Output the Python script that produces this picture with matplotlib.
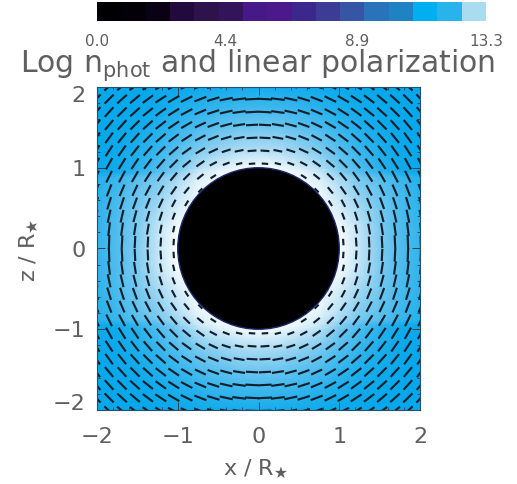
import numpy as np
import matplotlib
matplotlib.use("Agg")
import matplotlib.pyplot as plt
from matplotlib.colors import ListedColormap, LinearSegmentedColormap
from matplotlib.patches import Circle
from matplotlib.ticker import MultipleLocator

# --- colour bar
bar_colors = ["#000003", "#030008", "#0a0214", "#230a3c", "#2d124b", "#32145a",
              "#461987", "#4b198c", "#3c288c", "#3c3c96", "#3755a5", "#2873b9",
              "#1e82c3", "#00aff0", "#28b4eb", "#aadcf0"]
bar_ticks = [0.0, 4.4, 8.9, 13.3]
bar_ticklabels = ["0.0", "4.4", "8.9", "13.3"]

# --- photon-density brightness, quadrant x>=0, z>=0 (0 = saturated blue, 1 = white)
x_knots = [0, .25, .5, .75, 1, 1.25, 1.5, 1.75, 2]
z_knots = [0, .25, .5, .75, .88, .95, 1, 1.25, 1.5, 1.75, 2]
brightness = [
    [1.00, 1.00, 1.00, 1.00, 1.00, .74, .48, .30, .18],
    [1.00, 1.00, 1.00, 1.00, .95, .72, .47, .29, .17],
    [1.00, 1.00, 1.00, .95, .82, .62, .43, .27, .16],
    [1.00, 1.00, .98, .90, .70, .50, .36, .23, .14],
    [1.00, .98, .92, .82, .62, .44, .32, .20, .13],
    [1.00, .95, .90, .76, .50, .30, .16, .06, .03],
    [.98, .92, .82, .68, .44, .27, .14, .05, .02],
    [.64, .62, .54, .44, .30, .18, .09, .03, .01],
    [.42, .40, .34, .27, .18, .11, .05, .02, .00],
    [.22, .21, .18, .14, .09, .05, .02, .01, .00],
    [.06, .06, .05, .04, .02, .01, .00, .00, .00],
]

# --- polarization vectors, quadrant x>0, z>0, rows = z, cols = x
vec_pos = [.08, .24, .40, .56, .72, .89, 1.05, 1.21, 1.37, 1.53, 1.69, 1.85, 2.01]
# tilt below horizontal, degrees
vec_tilt = [
    [45, 72, 79, 82, 84, 85, 86, 86, 87, 87, 87, 88, 88],
    [18, 45, 59, 67, 72, 75, 77, 79, 80, 81, 82, 83, 83],
    [11, 31, 45, 55, 61, 66, 69, 72, 74, 75, 77, 78, 79],
    [8, 23, 36, 45, 52, 58, 62, 65, 68, 70, 72, 73, 74],
    [6, 18, 29, 38, 45, 51, 55, 59, 62, 65, 67, 69, 70],
    [5, 15, 24, 33, 39, 45, 50, 54, 57, 60, 62, 64, 66],
    [4, 13, 21, 28, 35, 40, 45, 49, 53, 56, 58, 61, 63],
    [4, 11, 18, 25, 31, 36, 41, 45, 49, 52, 55, 57, 59],
    [3, 10, 16, 22, 28, 33, 37, 41, 45, 48, 51, 54, 56],
    [3, 9, 15, 20, 25, 30, 34, 38, 42, 45, 48, 50, 53],
    [3, 8, 13, 18, 23, 28, 32, 36, 39, 42, 45, 48, 50],
    [3, 7, 12, 17, 21, 26, 30, 33, 37, 40, 42, 45, 47],
    [2, 7, 11, 16, 20, 24, 28, 31, 34, 37, 40, 43, 45],
]
vec_len = [
    [.04, .04, .04, .04, .04, .04, .08, .11, .135, .15, .165, .175, .16],
    [.04, .04, .04, .04, .04, .05, .08, .11, .135, .15, .165, .17, .16],
    [.04, .04, .04, .04, .04, .06, .09, .115, .135, .15, .16, .165, .16],
    [.04, .04, .04, .04, .05, .08, .10, .125, .14, .15, .155, .16, .16],
    [.04, .04, .04, .05, .07, .10, .12, .135, .145, .15, .155, .16, .16],
    [.04, .05, .06, .08, .10, .115, .13, .14, .15, .155, .16, .16, .16],
    [.08, .08, .09, .10, .12, .13, .14, .15, .155, .16, .16, .16, .16],
    [.11, .11, .115, .125, .135, .14, .15, .155, .16, .16, .16, .16, .16],
    [.135, .135, .135, .14, .145, .15, .155, .16, .16, .16, .16, .16, .16],
    [.15, .15, .15, .15, .15, .155, .16, .16, .16, .16, .16, .16, .16],
    [.165, .165, .16, .155, .155, .16, .16, .16, .16, .16, .16, .16, .16],
    [.175, .17, .165, .16, .16, .16, .16, .16, .16, .16, .16, .16, .16],
    [.16, .16, .16, .16, .16, .16, .16, .16, .16, .16, .16, .16, .16],
]

title = r"Log n$_{\mathrm{phot}}$ and linear polarization"
xlabel = r"x / R$_{\bigstar}$"
ylabel = r"z / R$_{\bigstar}$"
axis_ticks = [-2, -1, 0, 1, 2]
ytick_labels = ["\u22122", "\u22121", "0", "1", "2"]
ytick_offset_pt = [4.3, -1.5, -1.5, -1.5, -6.5]

W, H = 517, 484
GRAY = "#5f5f5f"
plt.rcParams["font.family"] = "DejaVu Sans"
plt.rcParams["mathtext.default"] = "regular"

fig = plt.figure(figsize=(W / 100, H / 100), dpi=100)


def px_axes(l, t, r, b):
    return fig.add_axes([l / W, 1 - b / H, (r - l) / W, (b - t) / H])


# colour bar
cax = px_axes(97, 2, 486, 21)
edges = np.linspace(0, 13.3, len(bar_colors) + 1)
cax.pcolormesh(edges, [0, 1], np.arange(len(bar_colors))[None, :],
               cmap=ListedColormap(bar_colors), shading="flat")
cax.set_xlim(0, 13.3)
cax.set_yticks([])
cax.set_xticks(bar_ticks, bar_ticklabels, fontsize=11, color=GRAY)
cax.tick_params(axis="x", length=0, pad=9)
for s in cax.spines.values():
    s.set_visible(False)

# main panel
ax = px_axes(97, 87, 420, 410)
field_cmap = LinearSegmentedColormap.from_list(
    "field", [(0, "#05a8eb"), (.5, "#86cdf0"), (.85, "#dff1fa"), (1, "#ffffff")])
B = np.array(brightness)
top = np.hstack([B[:, :0:-1], B])
full = np.vstack([top[:0:-1], top])
xs = np.array(x_knots)
zs = np.array(z_knots)
gx = np.concatenate([-xs[:0:-1], xs])
gz = np.concatenate([-zs[:0:-1], zs])
ax.pcolormesh(gx, gz, full, cmap=field_cmap, vmin=0, vmax=1, shading="gouraud", zorder=1)

# segments in all four quadrants
pos = np.array(vec_pos)
tilt = np.radians(np.array(vec_tilt, float))
ln = np.array(vec_len)
for sx in (1, -1):
    for sz in (1, -1):
        X, Z = np.meshgrid(sx * pos, sz * pos)
        T = -sx * sz * tilt
        ax.quiver(X, Z, ln * np.cos(T), ln * np.sin(T), angles="xy", scale_units="xy",
                  scale=1, pivot="mid", headwidth=1, headlength=0, headaxislength=0,
                  width=0.0066, color="#141f2c", zorder=2)
ax.add_patch(Circle((0, 0), 1.0, facecolor="black", edgecolor="#1b2a6b", lw=1.0, zorder=3))

ax.set_xlim(-2, 2)
ax.set_ylim(-2, 2)
ax.set_aspect("equal")
ax.set_xticks(axis_ticks)
ax.set_yticks(axis_ticks)
ax.set_yticklabels([])
ax.xaxis.set_minor_locator(MultipleLocator(0.2))
ax.yaxis.set_minor_locator(MultipleLocator(0.2))
ax.tick_params(which="major", direction="in", top=True, right=True, length=6, width=0.7,
               color="#30404a", labelsize=16, labelcolor=GRAY)
ax.tick_params(which="minor", direction="in", top=True, right=True, length=2.5, width=0.6,
               color="#30404a")
ax.tick_params(axis="x", which="major", pad=12)
for s in ax.spines.values():
    s.set_linewidth(0.8)
    s.set_color("#24506e")

# y tick labels sit slightly inward of their ticks in the reference
for val, lab, off in zip(axis_ticks, ytick_labels, ytick_offset_pt):
    ax.annotate(lab, xy=(0, val), xycoords=ax.get_yaxis_transform(), xytext=(-8, off),
                textcoords="offset points", ha="right", va="center", fontsize=16, color=GRAY)

fig.text(258 / W, 1 - 72 / H, title, ha="center", va="baseline", fontsize=21.5, color=GRAY)
fig.text(256 / W, 1 - 475 / H, xlabel, ha="center", va="baseline", fontsize=16, color=GRAY)
fig.text(29 / W, 1 - 250 / H, ylabel, ha="center", va="center", rotation=90, fontsize=16, color=GRAY)

fig.savefig("out.png", dpi=100)
